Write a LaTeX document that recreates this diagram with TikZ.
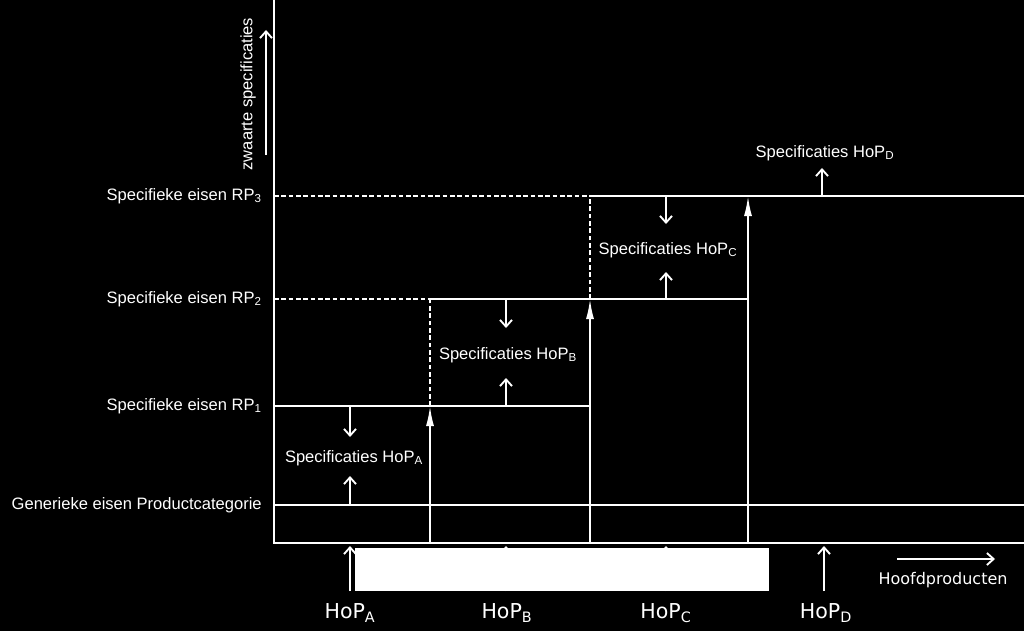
\documentclass[tikz,border=0pt]{standalone}
\usepackage{fontspec}
\setmainfont{Liberation Sans}
\newfontfamily\dvs{DejaVu Sans}
\usetikzlibrary{arrows.meta}
\begin{document}
\begin{tikzpicture}[x=0.75pt,y=-0.75pt,
  ln/.style={white, line width=1.4pt},
  dsh/.style={white, line width=1.4pt, dash pattern=on 3.5pt off 2pt},
  sarr/.style={ln, -{Straight Barb[length=5pt,width=9pt]}},
  barr/.style={ln, -{Latex[length=15pt,width=6pt]}},
  lbl/.style={text=white, font=\fontsize{12.4}{14}\selectfont, inner sep=0pt},
  hop/.style={text=white, font=\dvs\fontsize{15.4}{18}\selectfont, inner sep=0pt}]
\fill[black] (0,0) rectangle (1024,631);
\useasboundingbox (0,0) rectangle (1024,631);
% coordinates
\coordinate (top) at (274,0);
\coordinate (O) at (274,543);
\coordinate (xe) at (1024,543);
\coordinate (g0) at (274,505); \coordinate (g1) at (1024,505);
\coordinate (r1a) at (274,406); \coordinate (r1b) at (590,406);
\coordinate (r2a) at (274,299); \coordinate (r2m) at (430,299); \coordinate (r2b) at (748,299);
\coordinate (r3a) at (274,196); \coordinate (r3m) at (590,196); \coordinate (r3b) at (1024,196);
\coordinate (b430) at (430,543); \coordinate (t430) at (430,406); \coordinate (d430) at (430,299);
\coordinate (b590) at (590,543); \coordinate (t590) at (590,299); \coordinate (d590) at (590,196);
\coordinate (b748) at (748,543); \coordinate (t748) at (748,196);
% axes
\draw[ln] (top) -- (O) -- (xe);
\draw[ln] (g0) -- (g1);
\draw[ln] (r1a) -- (r1b);
\draw[dsh] (r2a) -- (r2m); \draw[ln] (r2m) -- (r2b);
\draw[dsh] (r3a) -- (r3m); \draw[ln] (r3m) -- (r3b);
\draw[dsh] (t430) -- (d430);
\draw[dsh] (t590) -- (d590);
\draw[barr] (b430) -- (t430);
\draw[barr] (b590) -- (t590);
\draw[barr] (b748) -- (t748);
% y axis arrow and label
\coordinate (ya0) at (266,155); \coordinate (ya1) at (266,30);
\draw[sarr] (ya0) -- (ya1);
\node[lbl, rotate=90] (ylab) at (248,94) {zwaarte specificaties};
% left labels
\node[lbl, anchor=east] (lg) at (262,505) {Generieke eisen Productcategorie};
\node[lbl, anchor=east] (l1) at (262,406) {Specifieke eisen RP\textsubscript{1}};
\node[lbl, anchor=east] (l2) at (262,299) {Specifieke eisen RP\textsubscript{2}};
\node[lbl, anchor=east] (l3) at (262,196) {Specifieke eisen RP\textsubscript{3}};
% spec A
\coordinate (a1) at (350,407); \coordinate (a2) at (350,437);
\coordinate (a3) at (350,505); \coordinate (a4) at (350,476);
\draw[sarr] (a1) -- (a2); \draw[sarr] (a3) -- (a4);
\node[lbl] (sA) at (354,458) {Specificaties HoP\textsubscript{A}};
% spec B
\coordinate (bb1) at (506,299); \coordinate (bb2) at (506,328);
\coordinate (bb3) at (506,406); \coordinate (bb4) at (506,378);
\draw[sarr] (bb1) -- (bb2); \draw[sarr] (bb3) -- (bb4);
\node[lbl] (sB) at (508,355) {Specificaties HoP\textsubscript{B}};
% spec C
\coordinate (c1) at (666,196); \coordinate (c2) at (666,224);
\coordinate (c3) at (666,299); \coordinate (c4) at (666,272);
\draw[sarr] (c1) -- (c2); \draw[sarr] (c3) -- (c4);
\node[lbl] (sC) at (668,250) {Specificaties HoP\textsubscript{C}};
% spec D
\coordinate (d1) at (822,196); \coordinate (d2) at (822,168);
\draw[sarr] (d1) -- (d2);
\node[lbl] (sD) at (825,153) {Specificaties HoP\textsubscript{D}};
% bottom arrows
\coordinate (pA0) at (350,591); \coordinate (pA1) at (350,546);
\coordinate (pB0) at (506,591); \coordinate (pB1) at (506,546);
\coordinate (pC0) at (666,591); \coordinate (pC1) at (666,546);
\coordinate (pD0) at (824,591); \coordinate (pD1) at (824,546);
\draw[sarr] (pB0) -- (pB1);
\draw[sarr] (pC0) -- (pC1);
\node[fill=white, draw=none, minimum width=414*0.75pt, minimum height=43*0.75pt, inner sep=0pt, anchor=north west] (bar) at (355,548) {};
\draw[sarr] (pA0) -- (pA1);
\draw[sarr] (pD0) -- (pD1);
\node[hop] (hA) at (350,613) {HoP\textsubscript{A}};
\node[hop] (hB) at (507,613) {HoP\textsubscript{B}};
\node[hop] (hC) at (666,613) {HoP\textsubscript{C}};
\node[hop] (hD) at (826,613) {HoP\textsubscript{D}};
% x axis label
\coordinate (xa0) at (897,559); \coordinate (xa1) at (995,559);
\draw[sarr] (xa0) -- (xa1);
\node[text=white, font=\dvs\fontsize{12}{14}\selectfont, inner sep=0pt] (xlab) at (943,580) {Hoofdproducten};
\end{tikzpicture}
\end{document}
